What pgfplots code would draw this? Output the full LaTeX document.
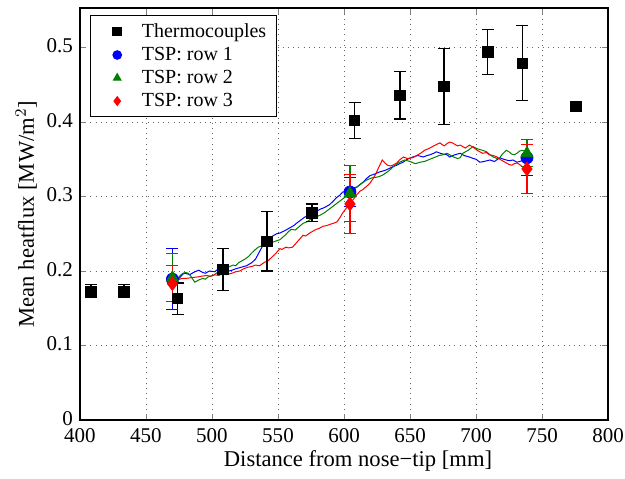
\documentclass[border=0pt]{standalone}
\usepackage{pgfplots}
\pgfplotsset{compat=1.18}
\usepackage{fontspec}
\setmainfont{Liberation Serif}
\definecolor{mblue}{rgb}{0,0,1}
\definecolor{mgreen}{rgb}{0,0.5,0}
\definecolor{mred}{rgb}{1,0,0}
\begin{document}
\begin{tikzpicture}
\path[use as bounding box] (-40pt,-29pt) rectangle (272.5pt,210pt);
\begin{axis}[
  at={(0pt,0pt)}, anchor=south west,
  scale only axis, width=264pt, height=206pt,
  xmin=400, xmax=800, ymin=0, ymax=0.553,
  xtick={400,450,...,800}, ytick={0,0.1,...,0.5},
  /pgf/number format/assume math mode=true,
  yticklabel style={/pgf/number format/fixed, yshift=0.8pt},
  xticklabel style={yshift=-0.6pt},
  ticklabel style={font=\fontsize{10.5}{12}\selectfont},
  xlabel={Distance from nose\textminus tip [mm]},
  ylabel={Mean heatflux [MW/m$^{2}$]},
  label style={font=\fontsize{11.3}{13}\selectfont},
  xlabel style={yshift=2.6pt, xshift=7pt},
  ylabel style={yshift=-2pt},
  tick align=inside, tick pos=both,
  major tick length=3pt,
  grid=major,
  grid style={black!60, line width=0.4pt, dash pattern=on 0.4pt off 2.2pt},
  axis line style={line width=0.6pt},
  legend style={at={(0.019,0.983)}, anchor=north west, draw=black, line width=0.6pt,
    font=\fontsize{10}{12}\selectfont, row sep=-0.6pt, inner xsep=3pt, inner ysep=1.8pt},
  legend cell align=left,
  legend image code/.code={\path (0pt,0pt) (20pt,0pt); \draw[mark size=2.1pt, only marks] plot coordinates {(10pt,0pt)};},
]
% continuous TSP lines
\addplot[mblue, line width=0.5pt, forget plot] coordinates {
(470,0.195)(472,0.191)(475,0.190)(478,0.196)(480,0.197)(483,0.195)(487,0.199)(490,0.201)(493,0.198)(495,0.197)(498,0.200)(502,0.199)(505,0.203)(508,0.202)(511,0.199)(515,0.201)(518,0.203)(522,0.205)(526,0.207)(530,0.211)(533,0.216)(536,0.226)(539,0.236)(541,0.245)(544,0.244)(546,0.247)(549,0.250)(551.5,0.251)(555,0.254)(559,0.258)(562,0.261)(564,0.264)(567,0.268)(570,0.272)(573,0.275)(576.5,0.279)(579,0.280)(582,0.283)(585,0.285)(589,0.289)(592,0.294)(594,0.298)(597,0.302)(599,0.306)(602,0.307)(604.5,0.309)(607,0.311)(610,0.313)(612,0.316)(615,0.320)(617,0.324)(619.7,0.328)(623,0.330)(627,0.333)(631,0.335)(634.8,0.338)(637,0.340)(640,0.342)(642,0.344)(644.7,0.346)(648,0.350)(652,0.353)(656,0.355)(660,0.353)(663,0.355)(665,0.356)(668,0.358)(670,0.360)(673,0.358)(675,0.357)(678,0.356)(680,0.353)(684,0.356)(688,0.358)(691,0.355)(695,0.353)(698,0.351)(700,0.350)(703,0.346)(706,0.347)(710.6,0.349)(714,0.347)(718,0.352)(721,0.350)(725,0.348)(728,0.349)(731,0.346)(735,0.348)(738.6,0.350)};
\addplot[mgreen, line width=0.5pt, forget plot] coordinates {
(470,0.195)(472,0.192)(474,0.190)(476,0.194)(478,0.197)(480,0.198)(482,0.197)(484,0.193)(485,0.190)(487,0.185)(490,0.188)(493,0.190)(495,0.189)(497,0.192)(501,0.194)(504,0.198)(507.6,0.201)(510,0.203)(512,0.205)(516,0.208)(518,0.207)(520,0.211)(523,0.214)(525,0.216)(528,0.220)(530,0.224)(533,0.229)(535,0.232)(538,0.234)(540,0.236)(543,0.235)(545,0.238)(548,0.240)(551.5,0.242)(554,0.246)(556,0.249)(558,0.253)(560,0.256)(563,0.255)(565,0.258)(567,0.261)(569,0.264)(572,0.266)(575,0.270)(578,0.272)(582,0.275)(585,0.278)(588,0.282)(591,0.286)(594.7,0.291)(597,0.294)(600,0.298)(602,0.301)(604.5,0.305)(607,0.309)(610,0.313)(613,0.317)(617,0.322)(621,0.325)(625,0.326)(627,0.327)(629.5,0.329)(632,0.332)(635,0.336)(638,0.341)(642,0.346)(646,0.349)(650,0.347)(654,0.344)(657.6,0.346)(661,0.347)(665,0.350)(668,0.352)(672,0.355)(675,0.356)(678,0.358)(680,0.356)(683,0.353)(686,0.351)(688,0.352)(690,0.358)(694,0.362)(697.7,0.367)(701,0.364)(705,0.362)(708,0.360)(710,0.357)(713,0.353)(716,0.351)(718,0.352)(720,0.357)(723,0.362)(725,0.360)(727,0.357)(729,0.356)(731,0.358)(733,0.361)(735,0.362)(738.6,0.360)};
\addplot[mred, line width=0.5pt, forget plot] coordinates {
(470,0.190)(474,0.188)(477,0.190)(480,0.190)(484,0.191)(489,0.192)(492,0.193)(496,0.194)(499,0.193)(502,0.195)(505,0.194)(508,0.196)(511,0.195)(515,0.197)(518,0.199)(521,0.200)(524,0.203)(527,0.205)(530,0.206)(533,0.208)(536,0.207)(540,0.212)(542,0.213)(545,0.218)(548,0.223)(551.5,0.230)(553,0.229)(556,0.232)(558,0.231)(561,0.232)(563,0.236)(565,0.240)(567,0.244)(569,0.248)(571,0.247)(574,0.251)(576,0.253)(579,0.256)(581,0.257)(584,0.260)(587,0.261)(590,0.263)(592,0.264)(594.7,0.266)(597,0.272)(599,0.278)(602,0.285)(604,0.290)(607,0.296)(609,0.301)(612,0.307)(614,0.309)(616,0.312)(618,0.315)(619.7,0.318)(622,0.324)(624,0.330)(626,0.338)(629,0.349)(631,0.345)(633,0.342)(635,0.341)(637,0.342)(640,0.345)(642,0.349)(645,0.353)(648,0.351)(652,0.352)(655,0.355)(658,0.358)(661,0.362)(665,0.365)(668,0.368)(672.7,0.372)(674,0.370)(676,0.368)(678,0.371)(680,0.373)(682,0.372)(684,0.370)(686,0.368)(688,0.369)(690,0.367)(692,0.365)(695,0.369)(698,0.366)(700.8,0.362)(703,0.360)(705,0.358)(708,0.359)(710,0.356)(713,0.355)(716,0.353)(718,0.350)(720,0.348)(723,0.345)(725,0.343)(727,0.342)(729,0.344)(731,0.345)(733,0.343)(735,0.340)(738.6,0.338)};
% markers with error bars
\addplot[only marks, mark=square*, mark size=2.6pt, black,
  error bars/.cd, y dir=both, y explicit, error bar style={line width=0.6pt}, error mark options={rotate=90, mark size=3pt, line width=0.6pt}]
  coordinates {
  (408.3,0.173) +- (0,0.009)
  (433.3,0.173) +- (0,0.009)
  (474,0.163) +- (0,0.021)
  (508.3,0.202) +- (0,0.028)
  (541.7,0.240) +- (0,0.040)
  (575.8,0.278) +- (0,0.012)
  (608,0.402) +- (0,0.024)
  (642.4,0.436) +- (0,0.032)
  (675.8,0.448) +- (0,0.051)
  (709,0.494) +- (0,0.030)
  (735,0.479) +- (0,0.050)
  (775.8,0.421) +- (0,0.004)};
\addlegendentry{Thermocouples}
\addplot[only marks, mark=*, mark size=3pt, mblue,
  error bars/.cd, y dir=both, y explicit, error bar style={line width=0.6pt}, error mark options={rotate=90, mark size=3pt, line width=0.6pt}]
  coordinates {
  (470,0.189) +- (0,0.041)
  (604.5,0.306) +- (0,0.019)
  (738.6,0.352) +- (0,0.024)};
\addlegendentry{TSP: row 1}
\addplot[only marks, mark=triangle*, mark size=3.4pt, mgreen,
  error bars/.cd, y dir=both, y explicit, error bar style={line width=0.6pt}, error mark options={rotate=90, mark size=3pt, line width=0.6pt}]
  coordinates {
  (470,0.191) +- (0,0.032)
  (604.5,0.304) +- (0,0.038)
  (738.6,0.358) +- (0,0.018)};
\addlegendentry{TSP: row 2}
\addplot[only marks, mark=diamond*, mark size=3.4pt, mred,
  error bars/.cd, y dir=both, y explicit, error bar style={line width=0.6pt}, error mark options={rotate=90, mark size=3pt, line width=0.6pt}]
  coordinates {
  (470,0.183) +- (0,0.024)
  (604.5,0.290) +- (0,0.040)
  (738.6,0.337) +- (0,0.033)};
\addlegendentry{TSP: row 3}
\end{axis}
\end{tikzpicture}
\end{document}
